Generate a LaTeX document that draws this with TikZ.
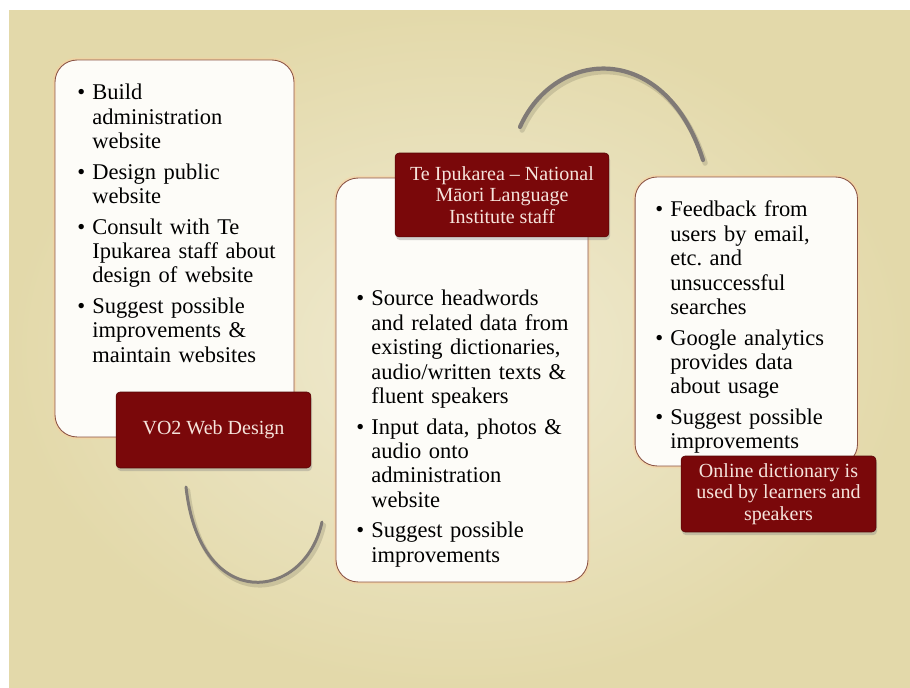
\documentclass[tikz,border=0pt]{standalone}
\usepackage{fontspec}
\setmainfont{Liberation Serif}
\usetikzlibrary{shadows}

\definecolor{parch}{RGB}{227,217,170}
\definecolor{parchlight}{RGB}{240,235,210}
\definecolor{tagred}{RGB}{122,8,10}
\definecolor{tagtext}{RGB}{246,228,220}
\definecolor{boxline}{RGB}{140,85,70}
\definecolor{boxfill}{RGB}{253,252,248}
\definecolor{arcgrey}{RGB}{128,122,118}

% one bullet point with a hanging indent
\newcommand{\itm}[1]{\setlength{\parskip}{3.4pt}\hangindent=0.3cm\hangafter=1\noindent\makebox[0.3cm][l]{\textbullet}#1\par}

\begin{document}
\begin{tikzpicture}[x=0.02cm, y=-0.02cm,
	box/.style={draw=boxline, line width=0.5pt, fill=boxfill, rounded corners=0.44cm, inner sep=0pt,
		preaction={draw=orange!40, line width=2.5pt, opacity=0.4}},
	tag/.style={fill=tagred, draw=tagred!70!black, line width=0.3pt, rounded corners=0.08cm,
		text=tagtext, align=center, inner sep=0pt, font=\fontsize{11.4}{12.3}\selectfont,
		drop shadow={shadow xshift=0.6pt, shadow yshift=-1.8pt, opacity=0.35}},
	list/.style={anchor=base west, inner sep=0pt, align=left, text width=#1,
		font=\fontsize{12.8}{13.9}\selectfont},
	swoosh/.style={draw=arcgrey, line cap=round}]

	\useasboundingbox (0,0) rectangle (910,688);
	\fill[white] (0,0) rectangle (910,688);
	\shade[inner color=parchlight, outer color=parch] (9,11) rectangle (910,688);

	\coordinate (arcA) at (520,127);
	\coordinate (arcB) at (703,160);
	\coordinate (arcC) at (186,487);
	\coordinate (arcD) at (322,522);

	\draw[swoosh, line width=3pt, draw=black, opacity=0.12, transform canvas={xshift=1.2pt, yshift=-1.8pt}]
		(arcA) .. controls (555,48) and (665,40) .. (arcB);
	\draw[swoosh, line width=2.4pt] (arcA) .. controls (555,48) and (665,40) .. (arcB);
	\draw[swoosh, line width=2.4pt, draw=black, opacity=0.12, transform canvas={xshift=1.2pt, yshift=-1.8pt}]
		(arcC) .. controls (200,615) and (305,601) .. (arcD);
	\draw[swoosh, line width=1.7pt] (arcC) .. controls (200,615) and (305,601) .. (arcD);

	\node[box, minimum width=4.78cm, minimum height=7.54cm] (box1) at (174.5,248.5) {};
	\node[box, minimum width=5.04cm, minimum height=8.08cm] (box2) at (462,380)     {};
	\node[box, minimum width=4.45cm, minimum height=5.78cm] (box3) at (746.3,321.5) {};

	\node[list=4.6cm] (list1) at (77,100) {%
		\itm{Build\newline administration\newline website}%
		\itm{Design public\newline website}%
		\itm{Consult with Te\newline Ipukarea staff about\newline design of website}%
		\itm{Suggest possible\newline improvements \&\newline maintain websites}};
	\node[list=4.8cm] (list2) at (356,306) {%
		\itm{Source headwords\newline and related data from\newline existing dictionaries,\newline audio/written texts \&\newline fluent speakers}%
		\itm{Input data, photos \&\newline audio onto\newline administration\newline website}%
		\itm{Suggest possible\newline improvements}};
	\node[list=4.2cm] (list3) at (655,217) {%
		\itm{Feedback from\newline users by email,\newline etc.\ and\newline unsuccessful\newline searches}%
		\itm{Google analytics\newline provides data\newline about usage}%
		\itm{Suggest possible\newline improvements}};

	\node[tag, minimum width=3.9cm,  minimum height=1.52cm] (tag1) at (213.5,430) {VO2 Web Design};
	\node[tag, minimum width=4.28cm, minimum height=1.68cm] (tag2) at (502,195)   {Te Ipukarea – National\\Māori Language\\Institute staff};
	\node[tag, minimum width=3.9cm,  minimum height=1.52cm] (tag3) at (778.5,494) {Online dictionary is\\used by learners and\\speakers};
\end{tikzpicture}
\end{document}
